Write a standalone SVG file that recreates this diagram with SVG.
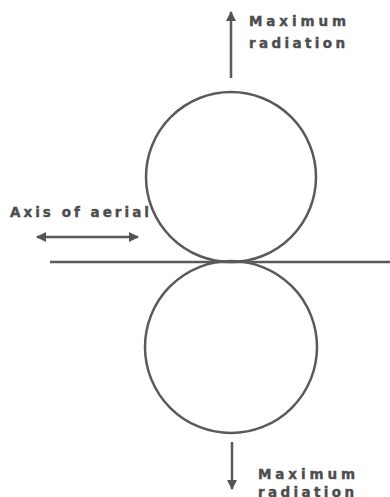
<svg xmlns="http://www.w3.org/2000/svg" width="390" height="497" viewBox="0 0 390 497">
<style>
.t{font-family:"DejaVu Sans","Liberation Sans",Arial,sans-serif;font-weight:bold;font-size:13.5px;fill:#4d4d4d;stroke:#4d4d4d;stroke-width:0.4}
.s{stroke:#5a5a5a;fill:none}
</style>
<defs>
<marker id="ah" viewBox="0 0 10 10" refX="9" refY="5" markerWidth="4" markerHeight="4" orient="auto-start-reverse" markerUnits="strokeWidth">
<path d="M0,0 L10,5 L0,10 z" fill="#555"/>
</marker>
</defs>
<rect width="390" height="497" fill="#fff"/>
<g id="lobe-top"><circle class="s" cx="231" cy="177" r="85" stroke-width="2.5"/></g>
<g id="lobe-bottom"><circle class="s" cx="231" cy="347" r="86" stroke-width="2.5"/></g>
<g id="aerial"><line class="s" x1="50" y1="262" x2="390" y2="262" stroke-width="2.5"/></g>
<g id="connectors">
<line class="s" x1="231" y1="78" x2="231" y2="12" stroke-width="2.5" marker-end="url(#ah)"/>
<line class="s" x1="232" y1="442" x2="232" y2="489" stroke-width="2.5" marker-end="url(#ah)"/>
<line class="s" x1="37" y1="237" x2="138" y2="237" stroke-width="2.5" marker-start="url(#ah)" marker-end="url(#ah)"/>
</g>
<g id="label-top">
<text class="t" x="249" y="26" textLength="97" lengthAdjust="spacing">Maximum</text>
<text class="t" x="249" y="48" textLength="96" lengthAdjust="spacing">radiation</text>
</g>
<g id="label-axis"><text class="t" x="10" y="217" textLength="139" lengthAdjust="spacing">Axis of aerial</text></g>
<g id="label-bottom">
<text class="t" x="258" y="479" textLength="97" lengthAdjust="spacing">Maximum</text>
<text class="t" x="258" y="497" textLength="96" lengthAdjust="spacing">radiation</text>
</g>
</svg>
